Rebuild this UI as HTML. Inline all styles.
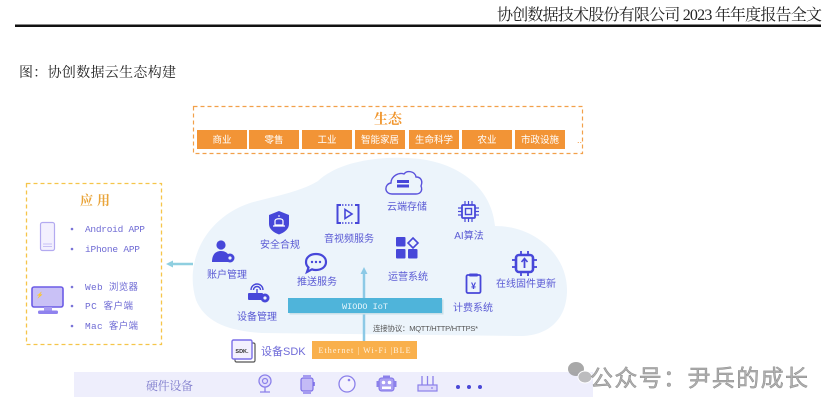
<!DOCTYPE html>
<html><head><meta charset="utf-8"><style>
html,body{margin:0;padding:0;background:#fff;}
svg{display:block;}
.serif{font-family:"Liberation Serif","Noto Serif CJK SC",serif;}
.sans{font-family:"Liberation Sans","Noto Sans CJK SC",sans-serif;}
.mono{font-family:"Liberation Mono","Noto Sans CJK SC",monospace;}
</style></head><body>
<svg width="833" height="406" viewBox="0 0 833 406" xmlns="http://www.w3.org/2000/svg">
<!-- header -->
<text x="822" y="20" class="serif" font-size="16" text-anchor="end" fill="#222" textLength="325">协创数据技术股份有限公司 2023 年年度报告全文</text>
<rect x="15" y="24.5" width="806" height="2.5" fill="#111"/>
<text x="19" y="77" class="serif" font-size="14" fill="#222" textLength="157">图：协创数据云生态构建</text>

<!-- ecology box -->
<rect x="193.5" y="106.5" width="389" height="47" fill="none" stroke="#f2a04a" stroke-width="1.2" stroke-dasharray="4,3"/>
<text x="388" y="124" class="serif" font-size="14" font-weight="bold" text-anchor="middle" fill="#f0962e">生态</text>
<g fill="#f29436">
<rect x="197" y="130" width="50" height="19"/>
<rect x="249" y="130" width="50" height="19"/>
<rect x="302" y="130" width="50" height="19"/>
<rect x="355" y="130" width="50" height="19"/>
<rect x="409" y="130" width="50" height="19"/>
<rect x="462" y="130" width="50" height="19"/>
<rect x="515" y="130" width="50" height="19"/>
</g>
<g class="sans" font-size="9.5" fill="#fff" text-anchor="middle">
<text x="222" y="143">商业</text>
<text x="274" y="143">零售</text>
<text x="327" y="143">工业</text>
<text x="380" y="143">智能家居</text>
<text x="434" y="143">生命科学</text>
<text x="487" y="143">农业</text>
<text x="540" y="143">市政设施</text>
</g>
<text x="577" y="143" class="sans" font-size="9" fill="#f29436">..</text>

<!-- cloud -->
<path d="M196 300 C184 262 205 218 250 203 C275 196 300 192 318 181 C340 160 385 155 420 159 C465 165 492 192 495 226 C535 226 568 255 567 292 C566 320 548 336 520 336 L262 333 C228 331 205 322 196 300 Z" fill="#ecf4fb"/>

<!-- app box -->
<rect x="26.5" y="183.5" width="135" height="161" fill="none" stroke="#f5c54a" stroke-width="1.3" stroke-dasharray="4,3"/>
<text x="97" y="205" class="serif" font-size="13" font-weight="bold" text-anchor="middle" fill="#e9a43a" letter-spacing="4">应用</text>
<!-- phone -->
<rect x="40.5" y="222.5" width="14" height="28" rx="2" fill="#f3f0fe" stroke="#b3aaf0" stroke-width="1.2"/>
<line x1="43" y1="244" x2="52" y2="244" stroke="#c7c0f5" stroke-width="1"/>
<line x1="43" y1="246.5" x2="52" y2="246.5" stroke="#c7c0f5" stroke-width="1"/>
<!-- monitor -->
<rect x="32" y="287" width="31" height="20" rx="2" fill="#c9c1f6" stroke="#6c5ce6" stroke-width="1.6"/>
<text x="36" y="297" font-size="6" fill="#6c5ce6" class="sans">⚡</text>
<rect x="44" y="307" width="8" height="4" fill="#a79cf0"/>
<rect x="38" y="310.5" width="20" height="3.5" rx="1.5" fill="#8f82ee"/>
<g fill="#7a74d8">
<circle cx="72" cy="229" r="1.3"/><circle cx="72" cy="249" r="1.3"/>
<circle cx="72" cy="287" r="1.3"/><circle cx="72" cy="306" r="1.3"/><circle cx="72" cy="326" r="1.3"/>
</g>
<g class="mono" font-size="9.5" fill="#6f6bd4">
<text x="85" y="232" textLength="60">Android APP</text>
<text x="85" y="252" textLength="55">iPhone APP</text>
<text x="85" y="290" textLength="53">Web 浏览器</text>
<text x="85" y="309" textLength="48">PC 客户端</text>
<text x="85" y="329" textLength="53">Mac 客户端</text>
</g>
<!-- left arrow -->
<line x1="193" y1="264" x2="171" y2="264" stroke="#8fcfe0" stroke-width="2.5"/>
<path d="M166 264 L173 260.5 L173 267.5 Z" fill="#8fcfe0"/>

<!-- icons -->
<g fill="#4747d9" stroke="none">
<path d="M279 211 L289 215 L289 224 C289 229 284.5 232.5 279 234.5 C273.5 232.5 269 229 269 224 L269 215 Z"/>
<circle cx="221" cy="245" r="4.6"/>
<path d="M212 262 C212 254 216 251 221 251 C225 251 228 253 229 256 L229 262 Z"/>
<circle cx="230" cy="258" r="4.5"/>
<rect x="396" y="237" width="9.5" height="9.5" rx="1"/>
<rect x="396" y="249" width="9.5" height="9.5" rx="1"/>
<rect x="408" y="249" width="9.5" height="9.5" rx="1"/>
<rect x="248" y="293" width="15" height="7" rx="1"/>
<circle cx="265" cy="298" r="4.5"/>
</g>
<path d="M275 225 L275 221 C275 218 283 218 283 221 L283 225 Z M273 226 L285 226" fill="none" stroke="#fff" stroke-width="1.2"/>
<line x1="279" y1="215" x2="279" y2="217" stroke="#fff" stroke-width="1"/>
<circle cx="230" cy="258" r="1.6" fill="#ecf4fb"/>
<circle cx="265" cy="298" r="1.6" fill="#ecf4fb"/>
<path d="M413 238 L418 243 L413 248 L408 243 Z" fill="none" stroke="#4747d9" stroke-width="1.6"/>
<path d="M251 290 A6 6 0 0 1 263 290 M253.5 290 A3.5 3.5 0 0 1 260.5 290" fill="none" stroke="#4747d9" stroke-width="1.4"/>
<line x1="257" y1="289" x2="257" y2="293" stroke="#4747d9" stroke-width="1.4"/>
<path d="M341 205 L337.5 205 L337.5 223 L341 223 M355 205 L358.5 205 L358.5 223 L355 223" fill="none" stroke="#4747d9" stroke-width="2"/>
<line x1="342" y1="205" x2="354" y2="205" stroke="#4747d9" stroke-width="1.5" stroke-dasharray="1.5,1.5"/>
<line x1="342" y1="223" x2="354" y2="223" stroke="#4747d9" stroke-width="1.5" stroke-dasharray="1.5,1.5"/>
<path d="M345 209.5 L345 218.5 L352 214 Z" fill="none" stroke="#4747d9" stroke-width="1.6"/>
<path d="M392 194 C384 194 384 184 391 183 C391 176 399 172 404 174 C407 170 415 171 416 177 C421 177 423 181 421 186 C423 191 420 194 416 194 Z" fill="none" stroke="#5a52dc" stroke-width="1.4"/>
<rect x="397" y="180" width="12" height="3" fill="#4747d9"/>
<rect x="397" y="184.5" width="12" height="3" fill="#4747d9"/>
<rect x="462" y="205" width="13" height="13" rx="1" fill="none" stroke="#4747d9" stroke-width="1.8"/>
<rect x="465.5" y="208.5" width="6" height="6" fill="none" stroke="#4747d9" stroke-width="1.4"/>
<g stroke="#4747d9" stroke-width="1.2">
<line x1="465" y1="201" x2="465" y2="205"/><line x1="468.5" y1="201" x2="468.5" y2="205"/><line x1="472" y1="201" x2="472" y2="205"/>
<line x1="465" y1="218" x2="465" y2="222"/><line x1="468.5" y1="218" x2="468.5" y2="222"/><line x1="472" y1="218" x2="472" y2="222"/>
<line x1="458" y1="208" x2="462" y2="208"/><line x1="458" y1="211.5" x2="462" y2="211.5"/><line x1="458" y1="215" x2="462" y2="215"/>
<line x1="475" y1="208" x2="479" y2="208"/><line x1="475" y1="211.5" x2="479" y2="211.5"/><line x1="475" y1="215" x2="479" y2="215"/>
</g>
<path d="M316 254 C322 254 326 257.5 326 262 C326 266.5 322 270 316 270 C314 270 313 269.7 312 269.3 L307 272 L308.5 267.5 C306.8 266 306 264 306 262 C306 257.5 310 254 316 254 Z" fill="none" stroke="#4747d9" stroke-width="2.2"/>
<g fill="#4747d9"><circle cx="312" cy="262" r="1.2"/><circle cx="316" cy="262" r="1.2"/><circle cx="320" cy="262" r="1.2"/></g>
<rect x="516" y="255" width="17" height="17" rx="3" fill="none" stroke="#4747d9" stroke-width="2.6"/>
<g stroke="#4747d9" stroke-width="1.8">
<line x1="521" y1="251" x2="521" y2="255"/><line x1="528" y1="251" x2="528" y2="255"/>
<line x1="521" y1="272" x2="521" y2="276"/><line x1="528" y1="272" x2="528" y2="276"/>
<line x1="512" y1="260" x2="516" y2="260"/><line x1="512" y1="267" x2="516" y2="267"/>
<line x1="533" y1="260" x2="537" y2="260"/><line x1="533" y1="267" x2="537" y2="267"/>
<line x1="524.5" y1="259" x2="524.5" y2="268"/>
</g>
<path d="M521.5 262 L524.5 258.5 L527.5 262" fill="none" stroke="#4747d9" stroke-width="1.6"/>
<rect x="466.5" y="275" width="14" height="18" rx="1.5" fill="none" stroke="#4747d9" stroke-width="1.8"/>
<rect x="469" y="273.5" width="9" height="3" rx="1" fill="#4747d9"/>
<text x="473.5" y="289" class="sans" font-size="9" font-weight="bold" text-anchor="middle" fill="#4747d9">¥</text>

<!-- labels -->
<g class="sans" font-size="10" fill="#5a5ad4" text-anchor="middle">
<text x="280" y="248">安全合规</text>
<text x="349" y="242">音视频服务</text>
<text x="407" y="210">云端存储</text>
<text x="469" y="239">AI算法</text>
<text x="227" y="278">账户管理</text>
<text x="317" y="285">推送服务</text>
<text x="408" y="280">运营系统</text>
<text x="526" y="287">在线固件更新</text>
<text x="473" y="311">计费系统</text>
<text x="257" y="320">设备管理</text>
</g>

<!-- vertical arrow -->
<line x1="364" y1="342" x2="364" y2="272" stroke="#8cc9e6" stroke-width="2.5"/>
<path d="M364 267 L360.5 274 L367.5 274 Z" fill="#8cc9e6"/>
<rect x="289.5" y="299.5" width="154" height="15" fill="#c9dfe8"/>
<rect x="288" y="298" width="154" height="15" fill="#4fb4da"/>
<text x="365" y="309" class="mono" font-size="8.5" text-anchor="middle" fill="#e8f6fc">WIODO IoT</text>
<text x="373" y="331" class="sans" font-size="7.5" fill="#555" textLength="105">连接协议：MQTT/HTTP/HTTPS*</text>
<rect x="312" y="341" width="105" height="18" fill="#f9b04c"/>
<text x="364.5" y="353" class="serif" font-size="8" text-anchor="middle" fill="#fff3e0" textLength="92">Ethernet | Wi-Fi |BLE</text>
<rect x="235" y="343" width="20" height="19" rx="1.5" fill="#fff" stroke="#555" stroke-width="1.2"/>
<rect x="232" y="340" width="20" height="19" rx="1.5" fill="#f3f0fe" stroke="#7a6ee8" stroke-width="1.4"/>
<text x="242" y="353" class="sans" font-size="5.5" font-weight="bold" text-anchor="middle" fill="#333">SDK.</text>
<text x="261" y="355" class="sans" font-size="11" fill="#6f6bd8">设备SDK</text>

<!-- hardware bar -->
<rect x="74" y="372" width="519" height="25" fill="#eeeefc"/>
<text x="146" y="390" class="serif" font-size="12" fill="#7f7ccc" textLength="47">硬件设备</text>
<circle cx="265" cy="381" r="6" fill="#e3dffc" stroke="#8b80ea" stroke-width="1.3"/>
<circle cx="265" cy="381" r="2.5" fill="none" stroke="#8b80ea" stroke-width="1.2"/>
<path d="M260 392 L270 392 M265 387 L265 392" stroke="#8b80ea" stroke-width="1.3"/>
<rect x="301" y="378" width="12" height="13" rx="2" fill="#c4bbf6" stroke="#7d70e8" stroke-width="1.2"/>
<rect x="303" y="375" width="8" height="3" fill="#a59bf0"/>
<rect x="303" y="391" width="8" height="3" fill="#a59bf0"/>
<rect x="313" y="382" width="1.8" height="4" fill="#7d70e8"/>
<circle cx="347" cy="384" r="8" fill="#f4f2fe" stroke="#8b80ea" stroke-width="1.3"/>
<circle cx="349" cy="380" r="1.3" fill="#8b80ea"/>
<rect x="379" y="378" width="15" height="13" rx="2.5" fill="#a99ff2" stroke="#7d70e8" stroke-width="1"/>
<rect x="383" y="375.5" width="7" height="3" fill="#8b80ea"/>
<circle cx="383.5" cy="382.5" r="1.8" fill="#fff"/><circle cx="389.5" cy="382.5" r="1.8" fill="#fff"/>
<rect x="382" y="386.5" width="9" height="2.5" fill="#fff"/>
<rect x="376.5" y="381" width="2.5" height="6" fill="#8b80ea"/><rect x="394" y="381" width="2.5" height="6" fill="#8b80ea"/>
<rect x="418" y="385" width="19" height="6" fill="#ddd8fb" stroke="#8b80ea" stroke-width="1.2"/>
<g stroke="#8b80ea" stroke-width="1.3"><line x1="422" y1="376" x2="422" y2="385"/><line x1="427.5" y1="376" x2="427.5" y2="385"/><line x1="433" y1="376" x2="433" y2="385"/></g>
<circle cx="432" cy="388" r="0.9" fill="#8b80ea"/>
<g fill="#4a48d6"><circle cx="458" cy="387" r="2"/><circle cx="469" cy="387" r="2"/><circle cx="480" cy="387" r="2"/></g>

<!-- watermark -->
<g opacity="0.85">
<ellipse cx="576" cy="369" rx="8" ry="7" fill="#9a9a9a"/>
<ellipse cx="585" cy="377" rx="7" ry="6" fill="#b4b4b4" stroke="#fff" stroke-width="1"/>
</g>
<text x="590" y="386" class="sans" font-size="23" fill="#b0b0b0" stroke="#8a8a8a" stroke-width="0.5" textLength="218">公众号：尹兵的成长</text>
</svg>
</body></html>
